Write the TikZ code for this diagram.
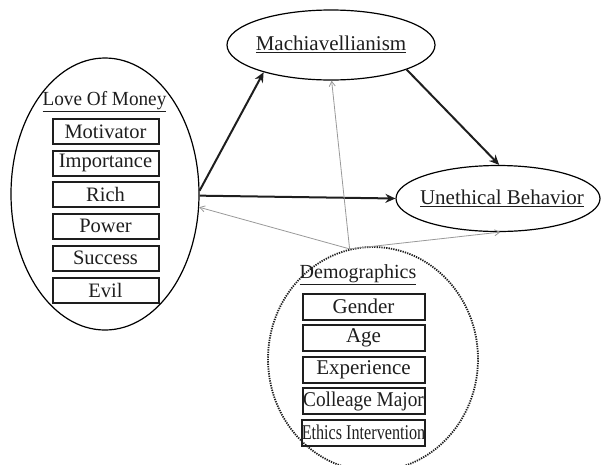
\documentclass[tikz,border=0pt]{standalone}
\usepackage{fontspec}
\usepackage{graphicx}
\setmainfont{Liberation Serif}
\usetikzlibrary{shapes.geometric,arrows.meta}
\definecolor{ink}{HTML}{1E1E1E}
\tikzset{
  oval/.style={ellipse, draw=black, line width=1.2pt, inner sep=0pt},
  itembox/.style={rectangle, draw=ink, line width=2pt, inner sep=0pt, text=ink},
  lovebox/.style={itembox, minimum width=106pt, minimum height=25pt, font=\fontsize{20.5}{22}\selectfont},
  demobox/.style={itembox, minimum width=122pt, minimum height=26pt, font=\fontsize{21}{23}\selectfont},
  title/.style={inner sep=0pt, text=ink},
  strong/.style={line width=2pt, draw=ink, -{Stealth[length=10pt,width=9pt]}},
  weak/.style={line width=0.8pt, draw=gray!80, -{Straight Barb[length=5pt,width=6pt]}}
}
\begin{document}
\begin{tikzpicture}[x=1pt,y=-1pt]
\useasboundingbox (0,0) rectangle (601,464);
% ovals
\node[oval, minimum width=188pt, minimum height=272pt] (love) at (105,194) {};
\node[oval, minimum width=208pt, minimum height=70pt] (mach) at (331,45) {};
\node[oval, minimum width=204pt, minimum height=66pt] (uneth) at (498,198.5) {};
\node[ellipse, draw=ink, line width=1.8pt, dash pattern=on 1.3pt off 1.1pt, minimum width=210pt, minimum height=224pt, inner sep=0pt] (demo) at (373,359) {};
% texts in ovals
\node[title, font=\fontsize{21}{23}\selectfont] (machtxt) at (331,44) {\underline{Machiavellianism}};
\node[title, font=\fontsize{21}{23}\selectfont] (unethtxt) at (502,198) {\underline{Unethical Behavior}};
\node[title, font=\fontsize{20}{22}\selectfont] (lovetxt) at (104.5,102) {\scalebox{0.96}[1]{\underline{Love Of Money}}};
\node[title, font=\fontsize{20}{22}\selectfont] (demotxt) at (358,275) {\underline{Demographics}};
% love items
\node[lovebox] (l1) at (105.5,131.5) {Motivator};
\node[lovebox] (l2) at (105.5,163) {Importance};
\node[lovebox] (l3) at (105.5,194.5) {Rich};
\node[lovebox] (l4) at (105.5,226) {Power};
\node[lovebox] (l5) at (105.5,258) {Success};
\node[lovebox] (l6) at (105.5,290) {Evil};
% demographic items
\node[demobox] (d1) at (363.5,306.5) {Gender};
\node[demobox] (d2) at (363.5,338) {Age};
\node[demobox] (d3) at (363.5,369.5) {Experience};
\node[demobox] (d4) at (363.5,401) {\scalebox{0.92}[1]{Colleage Major}};
\node[demobox] (d5) at (363.5,432.5) {\scalebox{0.77}[1]{Ethics Intervention}};
% connectors
\draw[strong] (love.2) -- (mach.202);
\draw[strong] (love.-1) -- (uneth.west);
\draw[strong] (mach.-18) -- (uneth.88);
\coordinate (dtop) at (demo.102);
\draw[weak] (dtop) -- (mach.-89);
\draw[weak] (dtop) -- (love.-8);
\draw[weak] (dtop) -- (uneth.-86);
\end{tikzpicture}
\end{document}
